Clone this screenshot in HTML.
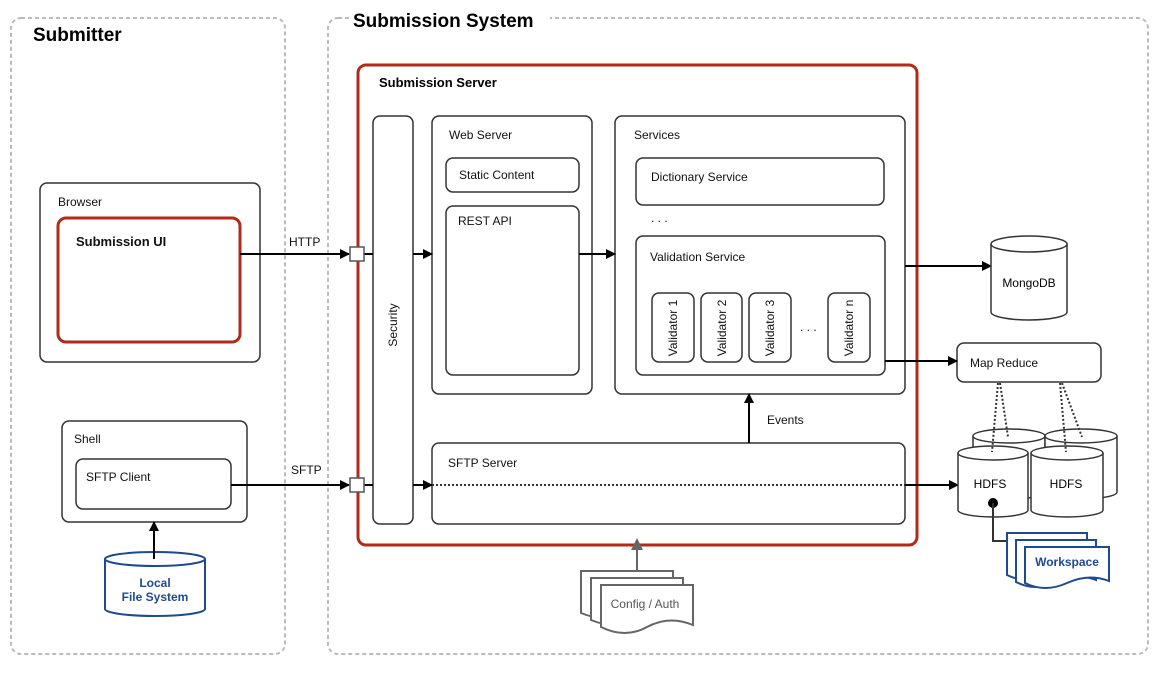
<!DOCTYPE html>
<html><head><style>
html,body{margin:0;padding:0;background:#fff;}
svg{display:block;font-family:"Liberation Sans",Arial,sans-serif;}
</style></head><body>
<svg width="1167" height="673" viewBox="0 0 1167 673" xmlns="http://www.w3.org/2000/svg">
<defs>
<marker id="a" markerWidth="10" markerHeight="10" refX="9" refY="5" orient="auto" markerUnits="userSpaceOnUse"><path d="M0,0 L10,5 L0,10 z" fill="#000"/></marker>
<marker id="g" markerWidth="12" markerHeight="12" refX="6" refY="11" orient="0" markerUnits="userSpaceOnUse"><path d="M0,12 L6,0 L12,12 z" fill="#666"/></marker>
</defs>
<g fill="none" stroke="#bbb" stroke-width="2" stroke-dasharray="4,3">
<rect x="11" y="18" width="274" height="636" rx="10"/>
<rect x="328" y="18" width="820" height="636" rx="10"/>
</g>
<text x="33" y="41" font-size="19" font-weight="bold">Submitter</text>
<rect x="350" y="10" width="200" height="24" fill="#fff"/>
<text x="353" y="27" font-size="19" font-weight="bold">Submission System</text>

<rect x="358" y="65" width="559" height="480" rx="8" fill="none" stroke="#b22a1a" stroke-width="3"/>
<text x="379" y="87" font-size="13" font-weight="bold">Submission Server</text>

<g fill="#fff" stroke="#333" stroke-width="1.5">
<rect x="373" y="116" width="40" height="408" rx="7"/>
<rect x="432" y="116" width="160" height="278" rx="7"/>
<rect x="446" y="158" width="133" height="34" rx="7"/>
<rect x="446" y="206" width="133" height="169" rx="7"/>
<rect x="615" y="116" width="290" height="278" rx="7"/>
<rect x="636" y="158" width="248" height="47" rx="7"/>
<rect x="636" y="236" width="249" height="139" rx="7"/>
<rect x="652" y="293" width="42" height="69" rx="7"/>
<rect x="701" y="293" width="41" height="69" rx="7"/>
<rect x="749" y="293" width="42" height="69" rx="7"/>
<rect x="828" y="293" width="42" height="69" rx="7"/>
<rect x="432" y="443" width="473" height="81" rx="7"/>
<rect x="40" y="183" width="220" height="179" rx="7"/>
<rect x="62" y="421" width="185" height="101" rx="7"/>
<rect x="76" y="459" width="155" height="50" rx="7"/>
<rect x="957" y="343" width="144" height="39" rx="7"/>
</g>
<rect x="58" y="218" width="182" height="124" rx="8" fill="#fff" stroke="#b22a1a" stroke-width="3"/>

<g font-size="12" fill="#111">
<text x="58" y="206">Browser</text>
<text x="76" y="246" font-size="13" font-weight="bold">Submission UI</text>
<text x="74" y="443">Shell</text>
<text x="86" y="481">SFTP Client</text>
<text x="449" y="139">Web Server</text>
<text x="459" y="179">Static Content</text>
<text x="458" y="225">REST API</text>
<text x="634" y="139">Services</text>
<text x="651" y="181">Dictionary Service</text>
<text x="651" y="222">. . .</text>
<text x="650" y="261">Validation Service</text>
<text x="800" y="331">. . .</text>
<text x="448" y="467">SFTP Server</text>
<text x="289" y="246">HTTP</text>
<text x="291" y="474">SFTP</text>
<text x="767" y="424">Events</text>
<text x="970" y="367">Map Reduce</text>
<text transform="translate(397,325) rotate(-90)" text-anchor="middle">Security</text>
<text transform="translate(677,328) rotate(-90)" text-anchor="middle">Validator 1</text>
<text transform="translate(726,328) rotate(-90)" text-anchor="middle">Validator 2</text>
<text transform="translate(774,328) rotate(-90)" text-anchor="middle">Validator 3</text>
<text transform="translate(853,328) rotate(-90)" text-anchor="middle">Validator n</text>
</g>

<!-- connectors -->
<g stroke="#000" stroke-width="2" fill="none">
<line x1="240" y1="254" x2="349" y2="254" marker-end="url(#a)"/>
<line x1="364" y1="254" x2="373" y2="254"/>
<line x1="413" y1="254" x2="432" y2="254" marker-end="url(#a)"/>
<line x1="231" y1="485" x2="349" y2="485" marker-end="url(#a)"/>
<line x1="364" y1="485" x2="373" y2="485"/>
<line x1="413" y1="485" x2="432" y2="485" marker-end="url(#a)"/>
<line x1="579" y1="254" x2="615" y2="254" marker-end="url(#a)"/>
<line x1="905" y1="266" x2="991" y2="266" marker-end="url(#a)"/>
<line x1="885" y1="361" x2="957" y2="361" marker-end="url(#a)"/>
<line x1="749" y1="443" x2="749" y2="394" marker-end="url(#a)"/>
<line x1="905" y1="485" x2="958" y2="485" marker-end="url(#a)"/>
<line x1="154" y1="550" x2="154" y2="522" marker-end="url(#a)"/>
</g>
<line x1="432" y1="485" x2="905" y2="485" stroke="#333" stroke-width="2" stroke-dasharray="2,2"/>
<rect x="350" y="247" width="14" height="14" fill="#fff" stroke="#555" stroke-width="1.5"/>
<rect x="350" y="478" width="14" height="14" fill="#fff" stroke="#555" stroke-width="1.5"/>

<!-- MongoDB -->
<g fill="#fff" stroke="#333" stroke-width="1.5">
<path d="M991,244 v68 a38,8 0 0 0 76,0 v-68"/>
<ellipse cx="1029" cy="244" rx="38" ry="8"/>
</g>
<text x="1029" y="287" font-size="12" text-anchor="middle">MongoDB</text>

<!-- HDFS -->
<g fill="#fff" stroke="#333" stroke-width="1.5">
<path d="M973,436 v56 a36,7 0 0 0 72,0 v-56"/><ellipse cx="1009" cy="436" rx="36" ry="7"/>
<path d="M1045,436 v56 a36,7 0 0 0 72,0 v-56"/><ellipse cx="1081" cy="436" rx="36" ry="7"/>
<path d="M958,453 v57 a35,7 0 0 0 70,0 v-57"/><ellipse cx="993" cy="453" rx="35" ry="7"/>
<path d="M1031,453 v57 a36,7 0 0 0 72,0 v-57"/><ellipse cx="1067" cy="453" rx="36" ry="7"/>
</g>
<g stroke="#333" stroke-width="2" stroke-dasharray="2,2">
<line x1="998" y1="383" x2="992" y2="452"/><line x1="1000" y1="383" x2="1008" y2="437"/>
<line x1="1060" y1="383" x2="1066" y2="452"/><line x1="1062" y1="383" x2="1082" y2="437"/>
</g>
<text x="990" y="488" font-size="12" text-anchor="middle">HDFS</text>
<text x="1066" y="488" font-size="12" text-anchor="middle">HDFS</text>
<circle cx="993" cy="503" r="5" fill="#000"/>
<path d="M993,503 V541 H1008" stroke="#333" stroke-width="2" fill="none"/>

<!-- Workspace -->
<g fill="#fff" stroke="#1f4a8f" stroke-width="2">
<path d="M1007,533 h80 v40 q-20,-8 -40,2 t-40,0 z"/>
<path d="M1016,540 h80 v40 q-20,-8 -40,2 t-40,0 z"/>
<path d="M1025,547 h84 v34 q-20,-8 -42,2 t-42,0 z"/>
</g>
<text x="1067" y="566" font-size="12" font-weight="bold" fill="#1f4a8f" text-anchor="middle">Workspace</text>

<!-- Config/Auth -->
<line x1="637" y1="571" x2="637" y2="549" stroke="#666" stroke-width="2" marker-end="url(#g)"/>
<g fill="#fff" stroke="#666" stroke-width="2">
<path d="M581,571 h92 v40 q-24,-8 -46,2 t-46,0 z"/>
<path d="M591,578 h92 v40 q-24,-8 -46,2 t-46,0 z"/>
<path d="M601,585 h92 v40 q-24,-10 -46,2 t-46,0 z"/>
</g>
<text x="645" y="608" font-size="12" fill="#555" text-anchor="middle">Config / Auth</text>

<!-- Local File System -->
<g fill="#fff" stroke="#1f4a8f" stroke-width="2">
<path d="M105,559 v50 a50,7 0 0 0 100,0 v-50"/><ellipse cx="155" cy="559" rx="50" ry="7"/>
</g>
<line x1="154" y1="559" x2="154" y2="534" stroke="#000" stroke-width="2"/>
<text x="155" y="587" font-size="12" font-weight="bold" fill="#1f4a8f" text-anchor="middle">Local</text>
<text x="155" y="601" font-size="12" font-weight="bold" fill="#1f4a8f" text-anchor="middle">File System</text>
</svg>
</body></html>
